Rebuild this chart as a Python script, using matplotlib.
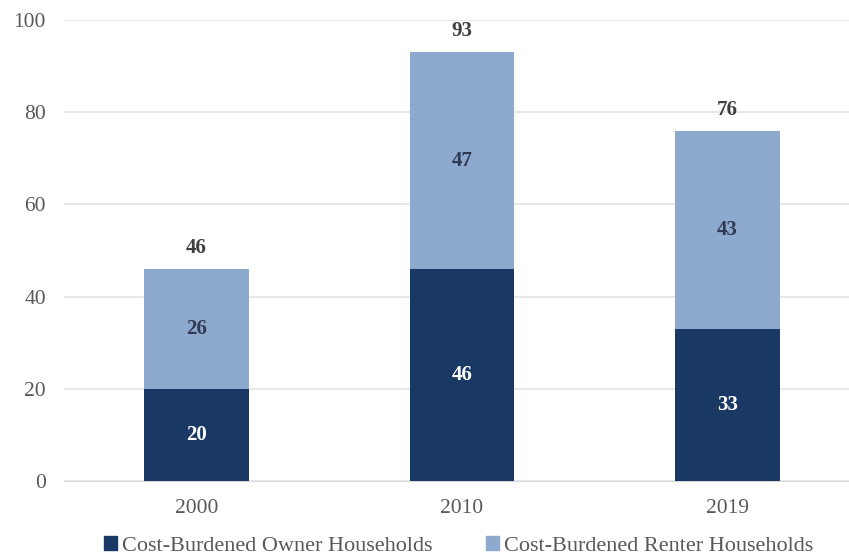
import matplotlib.pyplot as plt
from matplotlib.patches import Patch

plt.rcParams['font.family'] = ['Liberation Serif', 'DejaVu Serif']

years = ["2000", "2010", "2019"]
owner = [20, 46, 33]
renter = [26, 47, 43]
totals = [46, 93, 76]

owner_color = "#193863"
renter_color = "#8DA9CE"
text_grey = "#595959"

fig = plt.figure(figsize=(8.49, 5.56), dpi=100)
ax = fig.add_axes([64 / 849, 75 / 556, 796 / 849, 461 / 556])

x = list(range(len(years)))
width = 0.395
ax.bar(x, owner, width, color=owner_color, zorder=3)
ax.bar(x, renter, width, bottom=owner, color=renter_color, zorder=3)

for i in x:
    ax.text(i, owner[i] / 2, str(owner[i]), ha="center", va="center",
            color="white", fontsize=15, fontweight="bold", zorder=4)
    ax.text(i, owner[i] + renter[i] / 2, str(renter[i]), ha="center",
            va="center", color="#2E3A55", fontsize=15, fontweight="bold",
            zorder=4)
    ax.text(i, owner[i] + renter[i] + 2.4, str(totals[i]), ha="center",
            va="bottom", color="#3F3F3F", fontsize=15, fontweight="bold",
            zorder=4)

ax.set_xlim(-0.5, 2.5)
ax.set_ylim(0, 100)
ax.set_yticks(range(0, 101, 20))
ax.set_xticks(x)
ax.set_xticklabels(years)
ax.grid(axis="y", color="#E3E3E3", linewidth=1.2, zorder=0)
for s in ax.spines.values():
    s.set_visible(False)
ax.spines["bottom"].set_visible(True)
ax.spines["bottom"].set_color("#D9D9D9")
ax.tick_params(axis="both", length=0, labelsize=15.5, colors=text_grey)
ax.tick_params(axis="y", pad=13)
ax.tick_params(axis="x", pad=13)

handles = [Patch(color=owner_color, label="Cost-Burdened Owner Households"),
           Patch(color=renter_color, label="Cost-Burdened Renter Households")]
fig.legend(handles=handles, loc="lower center", bbox_to_anchor=(0.54, -0.036),
           ncol=2, frameon=False, fontsize=16, handlelength=0.6,
           handleheight=0.6, handletextpad=0.2, columnspacing=2.4,
           labelcolor=text_grey)

fig.savefig("out.png", dpi=100)
